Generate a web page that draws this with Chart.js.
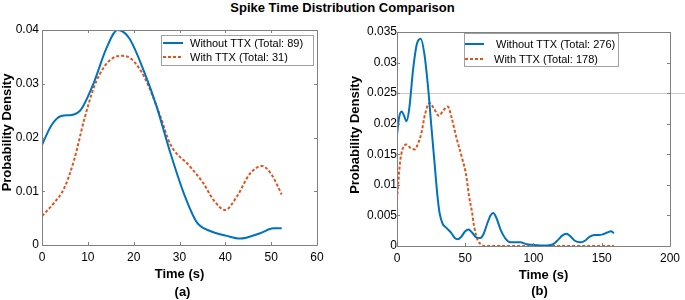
<!DOCTYPE html>
<html><head><meta charset="utf-8">
<script src="https://cdn.jsdelivr.net/npm/chart.js@4.4.1/dist/chart.umd.min.js"></script>
<style>
html,body{margin:0;padding:0;background:#fff;width:685px;height:300px;overflow:hidden;}
#title{position:absolute;left:0;top:0;width:685px;text-align:center;font:bold 13px "Liberation Sans",Arial,sans-serif;line-height:15px;color:#000;}
.box{position:absolute;top:0;height:300px;width:342px;}
#wa{left:0;}
#wb{left:343px;}
</style></head><body>
<div id="title">Spike Time Distribution Comparison</div>
<div class="box" id="wa"><canvas id="ca"></canvas></div>
<div class="box" id="wb"><canvas id="cb"></canvas></div>
<script>
// ---------- Panel (a) ----------
const labelsA = ['Without TTX (Total: 89)', 'With TTX (Total: 31)'];
const timeWithoutA = [0, 2, 4.2, 6.5, 8.5, 11.4, 14, 16.5, 19, 22.3, 25, 27.8, 30.9, 33.8, 36.7, 40.3, 43.2, 47.6, 50.5, 52.3];
const densWithoutA = [0.0186, 0.0222, 0.0240, 0.0242, 0.0252, 0.0304, 0.0365, 0.0400, 0.0385, 0.0322, 0.0258, 0.0177, 0.0097, 0.0042, 0.0026, 0.0017, 0.0012, 0.0022, 0.0031, 0.0031];
const timeWithA = [0, 2.6, 4.8, 7, 9.2, 11.4, 13.6, 15.5, 17.5, 19.5, 22.3, 25.8, 27.9, 32.3, 35.2, 37.4, 40, 42.5, 45.4, 48, 50.1, 52.3];
const densWithA = [0.0054, 0.0078, 0.0105, 0.0158, 0.0233, 0.0295, 0.0332, 0.0348, 0.0352, 0.0346, 0.0313, 0.0240, 0.0189, 0.0146, 0.0115, 0.0084, 0.0065, 0.0090, 0.0133, 0.0147, 0.0131, 0.0094];
const xTicksA = [0, 10, 20, 30, 40, 50, 60];
const yTicksA = [0, 0.01, 0.02, 0.03, 0.04];

// ---------- Panel (b) ----------
const labelsB = ['Without TTX (Total: 276)', 'With TTX (Total: 178)'];
const timeWithoutB = [0, 1.5, 3.4, 5, 7, 9, 11.8, 14.5, 17.4, 20, 22.7, 25, 27.5, 29.5, 31.2, 33.5, 36, 39.6, 42, 44.4, 47, 50, 52.4, 55, 58, 61, 63.5, 66, 68.5, 70.5, 73, 76, 79.5, 83, 87, 90.3, 95, 99, 105, 110, 114.5, 118, 121, 124, 127, 130, 134.5, 138, 141, 144.7, 148, 150.7, 154, 156.8, 159];
const densWithoutB = [0.0182, 0.0210, 0.0220, 0.0214, 0.0204, 0.0225, 0.0289, 0.0330, 0.0339, 0.0315, 0.0261, 0.0200, 0.0136, 0.0085, 0.0054, 0.0036, 0.0030, 0.0022, 0.0014, 0.0011, 0.0015, 0.0024, 0.0027, 0.0022, 0.0014, 0.0013, 0.0020, 0.0036, 0.0050, 0.0054, 0.0045, 0.0026, 0.0012, 0.0006, 0.0006, 0.0006, 0.0003, 0.0002, 0.0001, 0.0001, 0.0003, 0.0010, 0.0017, 0.0020, 0.0016, 0.0009, 0.0006, 0.0009, 0.0015, 0.0018, 0.0018, 0.0019, 0.0022, 0.0024, 0.0021];
const timeWithB = [0, 1, 2.2, 4, 7, 10, 13, 15.5, 17.9, 20.5, 23.9, 27, 30.7, 34, 37.2, 40, 43.2, 48, 50.5, 52.9, 55, 56.5, 59, 61.4, 64, 67, 100, 159];
const densWithB = [0.0076, 0.0105, 0.0136, 0.0158, 0.0166, 0.0160, 0.0158, 0.0168, 0.0185, 0.0215, 0.0234, 0.0225, 0.0213, 0.0222, 0.0228, 0.0210, 0.0180, 0.0141, 0.0118, 0.0080, 0.0055, 0.0032, 0.0010, 0.0003, 0.0, 0, 0, 0];
const xTicksB = [0, 50, 100, 150, 200];
const yTicksB = [0, 0.005, 0.01, 0.015, 0.02, 0.025, 0.03, 0.035];
const gridLinesB = [0.025];

const FONT = '"Liberation Sans", Arial, sans-serif';
const BLUE = '#0072BD';
const ORANGE = '#E0541C';

function pts(xs, ys) { return xs.map((x, i) => ({x: x, y: ys[i]})); }
function fmt(v) { return String(+Number(v).toFixed(4)); }

// horizontal reference lines (grid) drawn through the library's y scale
const gridPlugin = {
  id: 'mgrid',
  beforeDatasetsDraw(chart, args, o) {
    const {ctx, chartArea: a, scales} = chart;
    if (!o.values || !o.values.length) return;
    ctx.save();
    ctx.strokeStyle = '#cccccc';
    ctx.lineWidth = 1;
    ctx.beginPath();
    o.values.forEach(v => {
      const py = Math.round(scales.y.getPixelForValue(v)) + 0.5;
      ctx.moveTo(a.left, py); ctx.lineTo(chart.width, py);
    });
    ctx.stroke();
    ctx.restore();
  }
};

const framePlugin = {
  id: 'mframe',
  afterDatasetsDraw(chart) {
    const {ctx, chartArea: a, scales} = chart;
    ctx.save();
    ctx.strokeStyle = '#808080';
    ctx.lineWidth = 1;
    ctx.beginPath();
    ctx.rect(Math.round(a.left) + 0.5, Math.round(a.top) + 0.5, Math.round(a.right - a.left), Math.round(a.bottom - a.top));
    ctx.stroke();
    const L = 3;
    ctx.beginPath();
    scales.x.ticks.forEach(t => {
      const px = Math.round(scales.x.getPixelForValue(t.value)) + 0.5;
      ctx.moveTo(px, a.bottom); ctx.lineTo(px, a.bottom - L);
      ctx.moveTo(px, a.top); ctx.lineTo(px, a.top + L);
    });
    scales.y.ticks.forEach(t => {
      const py = Math.round(scales.y.getPixelForValue(t.value)) + 0.5;
      ctx.moveTo(a.left, py); ctx.lineTo(a.left + L, py);
      ctx.moveTo(a.right, py); ctx.lineTo(a.right - L, py);
    });
    ctx.stroke();
    ctx.restore();
  }
};

// axis titles, positioned relative to the chart area
const titlePlugin = {
  id: 'mtitles',
  afterDraw(chart, args, o) {
    const {ctx, chartArea: a} = chart;
    ctx.save();
    ctx.fillStyle = '#000';
    ctx.font = 'bold 13px ' + FONT;
    ctx.textAlign = 'center';
    ctx.textBaseline = 'middle';
    const cx = (a.left + a.right) / 2;
    o.xLines.forEach((line, i) => ctx.fillText(line, cx + o.xShift[i], o.xY[i]));
    ctx.translate(o.yX, (a.top + a.bottom) / 2 + o.yShift);
    ctx.rotate(-Math.PI / 2);
    ctx.fillText(o.yText, 0, 0);
    ctx.restore();
  }
};

const legendPlugin = {
  id: 'mlegend',
  afterDraw(chart, args, o) {
    const ctx = chart.ctx;
    ctx.save();
    ctx.fillStyle = '#fff';
    ctx.fillRect(o.x, o.y, o.w, o.h);
    ctx.strokeStyle = '#a0a0a0';
    ctx.lineWidth = 1;
    ctx.strokeRect(o.x + 0.5, o.y + 0.5, o.w, o.h);
    ctx.font = '11px ' + FONT;
    ctx.textBaseline = 'middle';
    ctx.textAlign = 'left';
    chart.data.datasets.forEach((ds, i) => {
      const cy = o.y + o.row0 + i * o.rowH;
      ctx.strokeStyle = ds.borderColor;
      ctx.lineWidth = 2;
      ctx.setLineDash(ds.borderDash || []);
      ctx.beginPath();
      ctx.moveTo(o.x + o.s0, cy); ctx.lineTo(o.x + o.s1, cy);
      ctx.stroke();
      ctx.setLineDash([]);
      ctx.fillStyle = '#000';
      ctx.fillText(ds.label, o.x + o.tx[i], cy + 0.5);
    });
    ctx.restore();
  }
};

function makeChart(id, c) {
  return new Chart(document.getElementById(id), {
    type: 'line',
    data: {datasets: [
      {label: c.labels[0], data: pts(c.t1, c.d1), borderColor: BLUE, borderWidth: 2, pointRadius: 0, cubicInterpolationMode: 'monotone', fill: false},
      {label: c.labels[1], data: pts(c.t2, c.d2), borderColor: ORANGE, borderWidth: 2, borderDash: [3, 2], pointRadius: 0, cubicInterpolationMode: 'monotone', fill: false}
    ]},
    options: {
      responsive: true, maintainAspectRatio: false, animation: false,
      layout: {padding: {top: c.top, right: c.right, left: 0, bottom: 0}},
      plugins: {legend: {display: false}, tooltip: {enabled: false}, mlegend: c.legend, mtitles: c.titles, mgrid: {values: c.grid}},
      scales: {
        x: {
          type: 'linear', min: c.xTicks[0], max: c.xTicks[c.xTicks.length - 1],
          afterBuildTicks: s => { s.ticks = c.xTicks.map(v => ({value: v})); },
          afterFit: s => { s.height = c.xh; },
          grid: {display: false, drawTicks: false}, border: {display: false},
          ticks: {padding: 5, color: '#000', font: {size: 12, family: FONT}, maxRotation: 0, autoSkip: false, callback: v => fmt(v)},
          title: {display: false}
        },
        y: {
          type: 'linear', min: 0, max: c.yTicks[c.yTicks.length - 1],
          afterBuildTicks: s => { s.ticks = c.yTicks.map(v => ({value: v})); },
          afterFit: s => { s.width = c.yw; },
          grid: {display: false, drawTicks: false},
          border: {display: false},
          ticks: {padding: c.ypad, color: '#000', font: {size: 12, family: FONT}, autoSkip: false, callback: v => fmt(v)},
          title: {display: false}
        }
      }
    },
    plugins: [gridPlugin, framePlugin, legendPlugin, titlePlugin]
  });
}

makeChart('ca', {
  labels: labelsA, t1: timeWithoutA, d1: densWithoutA, t2: timeWithA, d2: densWithA,
  xTicks: xTicksA, yTicks: yTicksA, grid: [],
  top: 30, right: 25, xh: 55, yw: 42, ypad: 3,
  titles: {xLines: ['Time (s)', '(a)'], xShift: [0, 3], xY: [274, 292], yText: 'Probability Density', yX: 7, yShift: -5},
  legend: {x: 161, y: 35, w: 152, h: 30, row0: 8, rowH: 14, s0: 2, s1: 22, tx: [29, 29]}
});
makeChart('cb', {
  labels: labelsB, t1: timeWithoutB, d1: densWithoutB, t2: timeWithB, d2: densWithB,
  xTicks: xTicksB, yTicks: yTicksB, grid: gridLinesB,
  top: 32, right: 12, xh: 54, yw: 54, ypad: 0,
  titles: {xLines: ['Time (s)', '(b)'], xShift: [10, 6], xY: [275, 291], yText: 'Probability Density', yX: 12, yShift: -4},
  legend: {x: 121, y: 33, w: 154, h: 33, row0: 11, rowH: 15, s0: 1, s1: 20, tx: [32, 30]}
});
</script>
</body></html>
